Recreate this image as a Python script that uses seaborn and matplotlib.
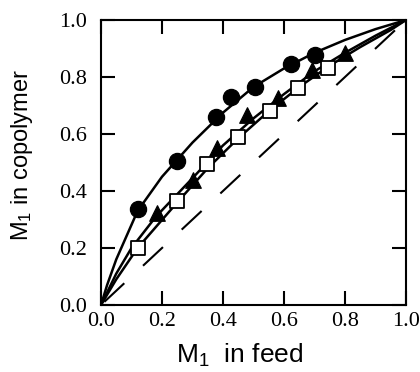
import numpy as np
import pandas as pd
import matplotlib
matplotlib.use("Agg")
import matplotlib.pyplot as plt
import seaborn as sns

# --- measured points (M1 in feed, M1 in copolymer) ---
circle_x = [0.12, 0.25, 0.377, 0.425, 0.505, 0.624, 0.703]
circle_y = [0.336, 0.506, 0.658, 0.731, 0.766, 0.846, 0.877]

triangle_x = [0.182, 0.30, 0.379, 0.478, 0.581, 0.691, 0.80]
triangle_y = [0.324, 0.437, 0.55, 0.667, 0.725, 0.825, 0.883]

square_x = [0.122, 0.25, 0.346, 0.45, 0.554, 0.647, 0.745]
square_y = [0.199, 0.366, 0.495, 0.588, 0.682, 0.760, 0.830]

# --- fitted curves ---
upper_x = [0.0, 0.02, 0.05, 0.12, 0.2, 0.25, 0.3, 0.4, 0.5, 0.6, 0.7, 0.8, 0.9, 1.0]
upper_y = [0.0, 0.07, 0.16, 0.33, 0.45, 0.51, 0.57, 0.675, 0.765, 0.83, 0.885, 0.93, 0.968, 1.0]

tri_curve_x = [0.0, 0.05, 0.1, 0.18, 0.3, 0.4, 0.5, 0.6, 0.7, 0.8, 0.9, 1.0]
tri_curve_y = [0.0, 0.11, 0.2, 0.31, 0.445, 0.56, 0.655, 0.74, 0.82, 0.885, 0.945, 1.0]

sq_curve_x = [0.0, 0.05, 0.12, 0.25, 0.35, 0.45, 0.55, 0.65, 0.75, 0.85, 0.95, 1.0]
sq_curve_y = [0.0, 0.09, 0.2, 0.36, 0.48, 0.585, 0.68, 0.765, 0.84, 0.905, 0.965, 1.0]

diag = [0.0, 1.0]
ticks = [0.0, 0.2, 0.4, 0.6, 0.8, 1.0]

sns.set_style("ticks")
plt.rcParams['font.family'] = ['Liberation Sans', 'DejaVu Sans']
plt.rcParams['mathtext.fontset'] = 'custom'
plt.rcParams['mathtext.rm'] = 'Liberation Sans'
plt.rcParams['mathtext.it'] = 'Liberation Sans'
plt.rcParams['text.color'] = 'black'
plt.rcParams['axes.labelcolor'] = 'black'
plt.rcParams['axes.edgecolor'] = 'black'
plt.rcParams['xtick.color'] = 'black'
plt.rcParams['ytick.color'] = 'black'

fig = plt.figure(figsize=(4.2, 3.72), dpi=100)
ax = fig.add_axes([101 / 420, 67 / 372, 305 / 420, 285 / 372])

# curves
for cx, cy in [(upper_x, upper_y), (tri_curve_x, tri_curve_y), (sq_curve_x, sq_curve_y)]:
    sns.lineplot(x=cx, y=cy, ax=ax, color='black', linewidth=1.8,
                 sort=False, estimator=None, zorder=2)

# dashed diagonal
ax.plot(diag, diag, color='black', linewidth=1.5,
        linestyle=(23.2, (13.1, 12.3)), zorder=1)

# markers
sns.scatterplot(x=circle_x, y=circle_y, ax=ax, marker='o', s=135,
                color='black', edgecolor='black', zorder=3)
sns.scatterplot(x=triangle_x, y=triangle_y, ax=ax, marker='^', s=125,
                color='black', edgecolor='black', zorder=3)
sns.scatterplot(x=square_x, y=square_y, ax=ax, marker='s', s=110,
                facecolor='white', edgecolor='black', linewidth=1.3, zorder=4)

ax.set_xlim(0, 1)
ax.set_ylim(0, 1)
ax.set_xticks(ticks)
ax.set_yticks(ticks)
ax.set_xticklabels([f"{t:.1f}" for t in ticks], family='Liberation Serif', fontsize=16)
ax.set_yticklabels([f"{t:.1f}" for t in ticks], family='Liberation Serif', fontsize=16)
ax.tick_params(axis='both', direction='in', length=10, width=1.5,
               top=True, right=True, colors='black')
ax.tick_params(axis='x', pad=5)
ax.tick_params(axis='y', pad=10)
for sp in ax.spines.values():
    sp.set_linewidth(1.5)
    sp.set_color('black')
    sp.set_visible(True)

ax.set_xlabel('M$_1$  in feed', fontsize=19)
ax.set_ylabel('M$_1$ in copolymer', fontsize=17)
ax.xaxis.set_label_coords(0.454, -0.13)
ax.yaxis.set_label_coords(-0.216, 0.525)

fig.savefig('out.png', dpi=100)
